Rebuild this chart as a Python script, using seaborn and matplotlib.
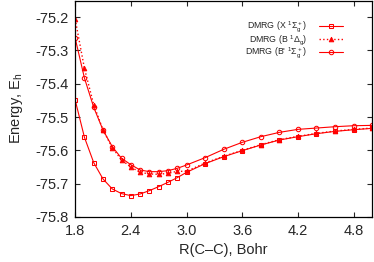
#!/usr/bin/env python3
"""
DMRG potential energy curves of C2 (X, B and B' states) vs C-C distance.
"""

import numpy as np
import pandas as pd
import matplotlib
matplotlib.use("Agg")
import matplotlib.pyplot as plt
from matplotlib.lines import Line2D
import seaborn as sns

# Bond lengths (Bohr)
r_cc = [1.8, 1.9, 2.0, 2.1, 2.2, 2.3, 2.4, 2.5, 2.6, 2.7, 2.8, 2.9, 3.0,
        3.2, 3.4, 3.6, 3.8, 4.0, 4.2, 4.4, 4.6, 4.8, 5.0]

# Energies (E_h)
e_x1sg = [-75.449, -75.561, -75.637, -75.686, -75.716, -75.730, -75.736,
          -75.731, -75.721, -75.709, -75.696, -75.682, -75.666,
          -75.640, -75.619, -75.601, -75.584, -75.569, -75.559, -75.550,
          -75.543, -75.538, -75.534]
e_b1dg = [-75.206, -75.354, -75.463, -75.539, -75.592, -75.629, -75.650,
          -75.666, -75.671, -75.672, -75.669, -75.663, -75.663,
          -75.638, -75.618, -75.600, -75.583, -75.568, -75.558, -75.549,
          -75.542, -75.537, -75.533]
e_bp1sg = [-75.263, -75.383, -75.471, -75.539, -75.589, -75.624, -75.643,
           -75.659, -75.664, -75.664, -75.661, -75.654, -75.644,
           -75.622, -75.597, -75.576, -75.559, -75.546, -75.537, -75.533,
           -75.529, -75.526, -75.525]

labels = [r"DMRG (X $^1\Sigma_g^+$)",
          r"DMRG (B $^1\Delta_g$)",
          r"DMRG (B' $^1\Sigma_g^+$)"]

x_ticks = [1.8, 2.4, 3.0, 3.6, 4.2, 4.8]
y_ticks = [-75.8, -75.7, -75.6, -75.5, -75.4, -75.3, -75.2]

RED = "#ff0000"
# line style per state: (column, linestyle, lw, marker, size, filled)
styles = [("X", "-", 0.8, "s", 3.2, False),
          ("B", ":", 1.0, "^", 3.4, True),
          ("Bp", "-", 0.8, "o", 3.2, False)]


def main():
    sns.set_style("ticks")
    plt.rcParams["font.family"] = ["Liberation Sans", "DejaVu Sans"]
    plt.rcParams["mathtext.fontset"] = "custom"
    plt.rcParams["mathtext.rm"] = "Liberation Sans"
    plt.rcParams["mathtext.it"] = "Liberation Sans"
    plt.rcParams["mathtext.bf"] = "Liberation Sans"

    fig = plt.figure(figsize=(3.74, 2.62), dpi=100)
    ax = fig.add_axes([0.201, 0.172, 0.794, 0.826])

    df = pd.DataFrame({"R": r_cc, "X": e_x1sg, "B": e_b1dg, "Bp": e_bp1sg})

    handles = []
    for (col, ls, lw, mk, ms, filled), lab in zip(styles, labels):
        kw = dict(color=RED, lw=lw, linestyle=ls, marker=mk, markersize=ms,
                  markerfacecolor=RED if filled else "none",
                  markeredgecolor=RED, markeredgewidth=0.6 if filled else 0.75)
        sns.lineplot(data=df, x="R", y=col, ax=ax, **kw)
        handles.append(Line2D([], [], label=lab, **kw))

    ax.set_xlim(1.8, 5.0)
    ax.set_ylim(-75.8, -75.15)
    ax.set_xticks(x_ticks)
    ax.set_xticklabels([f"{t:.1f}" for t in x_ticks])
    ax.set_yticks(y_ticks)
    ax.set_yticklabels([f"{t:.1f}" for t in y_ticks])
    ax.tick_params(direction="in", top=True, right=True, length=3.5,
                   width=0.8, labelsize=10.5, pad=5)
    for s in ax.spines.values():
        s.set_linewidth(0.9)
        s.set_color("black")

    ax.set_xlabel("R(C\u2013C), Bohr", fontsize=10.5, labelpad=4)
    ax.set_ylabel(r"Energy, E$_\mathrm{h}$", fontsize=10.5, labelpad=7)

    ax.legend(handles=handles, loc="upper right",
              bbox_to_anchor=(0.918, 0.933),
              frameon=False, markerfirst=False, fontsize=6.3,
              handlelength=2.8, handletextpad=1.4, labelspacing=-0.15,
              borderpad=0.0)

    fig.savefig("out.png", dpi=100)
    plt.close(fig)


if __name__ == "__main__":
    main()
